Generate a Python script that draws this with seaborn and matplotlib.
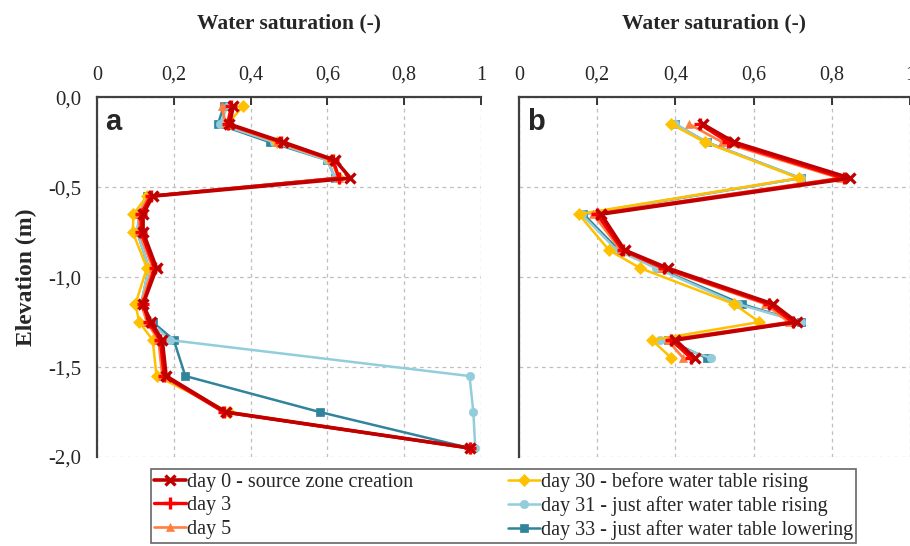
import numpy as np
import pandas as pd
import matplotlib
matplotlib.use("Agg")
import matplotlib.pyplot as plt
import seaborn as sns

# Perfiles de saturación de agua
ELEV_A = [-0.05, -0.15, -0.25, -0.35, -0.45, -0.55, -0.65, -0.75, -0.95,
          -1.15, -1.25, -1.35, -1.55, -1.75, -1.95]
ELEV_B = [-0.15, -0.25, -0.45, -0.65, -0.85, -0.95, -1.15, -1.25, -1.35, -1.45]

SERIES = ["day 0 - source zone creation", "day 3", "day 5",
          "day 30 - before water table rising",
          "day 31 - just after water table rising",
          "day 33 - just after water table lowering"]

DAY0_A = [0.355, 0.345, 0.485, 0.62, 0.66, 0.145, 0.12, 0.12, 0.155, 0.12, 0.14, 0.17, 0.18, 0.335, 0.97]
DAY3_A = [0.35, 0.34, 0.48, 0.615, 0.63, 0.14, 0.115, 0.115, 0.15, 0.12, 0.135, 0.165, 0.175, 0.33, 0.97]
DAY5_A = [0.325, 0.335, 0.47, 0.61, 0.63, 0.135, 0.11, 0.11, 0.145, 0.115, 0.13, 0.16, 0.17, 0.33, 0.97]
DAY30_A = [0.38, 0.34, 0.47, 0.61, 0.63, 0.13, 0.095, 0.093, 0.13, 0.10, 0.11, 0.145, 0.155, 0.345, 0.97]
DAY31_A = [0.34, 0.32, 0.46, 0.60, 0.62, 0.13, 0.11, 0.105, 0.135, 0.115, 0.14, 0.19, 0.97, 0.98, 0.985]
DAY33_A = [0.33, 0.315, 0.45, 0.60, 0.62, 0.13, 0.11, 0.105, 0.135, 0.115, 0.145, 0.20, 0.23, 0.58, 0.97]

DAY0_B = [0.47, 0.55, 0.847, 0.21, 0.27, 0.38, 0.65, 0.71, 0.40, 0.45]
DAY3_B = [0.463, 0.535, 0.83, 0.20, 0.265, 0.37, 0.64, 0.70, 0.39, 0.44]
DAY5_B = [0.435, 0.52, 0.82, 0.19, 0.26, 0.365, 0.63, 0.69, 0.38, 0.42]
DAY30_B = [0.39, 0.475, 0.715, 0.153, 0.23, 0.31, 0.55, 0.615, 0.34, 0.39]
DAY31_B = [0.40, 0.48, 0.72, 0.16, 0.25, 0.35, 0.56, 0.72, 0.36, 0.49]
DAY33_B = [0.40, 0.48, 0.72, 0.165, 0.255, 0.355, 0.57, 0.72, 0.38, 0.48]

X_TICKS = [0, 0.2, 0.4, 0.6, 0.8, 1]
X_LABELS = ["0", "0,2", "0,4", "0,6", "0,8", "1"]
Y_TICKS = [0, -0.5, -1.0, -1.5, -2.0]
Y_LABELS = ["0,0", "-0,5", "-1,0", "-1,5", "-2,0"]

# estilo de cada serie
COLORS = ["#C00000", "#FF0000", "#FF7F3F", "#FFC000", "#92CDDC", "#31849B"]
MARKERS = ["x", "+", "^", "D", "o", "s"]
MSIZE = [7, 9, 6, 6, 6, 6]
LWIDTH = [2.6, 2.4, 1.9, 1.8, 1.8, 1.8]

sns.set_theme(style="white")
plt.rcParams["font.family"] = ["Liberation Serif", "DejaVu Serif"]


def long_df(elev, cols):
    rows = []
    for name, vals in zip(SERIES, cols):
        for e, v in zip(elev, vals):
            rows.append(dict(serie=name, elev=e, sw=v))
    return pd.DataFrame(rows)


df_a = long_df(ELEV_A, [DAY0_A, DAY3_A, DAY5_A, DAY30_A, DAY31_A, DAY33_A])
df_b = long_df(ELEV_B, [DAY0_B, DAY3_B, DAY5_B, DAY30_B, DAY31_B, DAY33_B])

fig = plt.figure(figsize=(9.1, 5.46), dpi=100)
ax_a = fig.add_axes([0.1066, 0.163, 0.422, 0.659])
ax_b = fig.add_axes([0.5703, 0.163, 0.4297, 0.659])


def draw_panel(ax, df, letter, show_y):
    # rojo encima: se dibuja en orden inverso
    for i in reversed(range(len(SERIES))):
        sub = df[df["serie"] == SERIES[i]]
        filled = MARKERS[i] not in ("x", "+")
        sns.lineplot(data=sub, x="sw", y="elev", sort=False, estimator=None,
                     ax=ax, color=COLORS[i], marker=MARKERS[i],
                     markersize=MSIZE[i], linewidth=LWIDTH[i], label=SERIES[i],
                     markeredgewidth=2.4 if not filled else 0.5,
                     markeredgecolor=COLORS[i], zorder=10 - i)
    ax.set_xlim(0, 1)
    ax.set_ylim(-2.0, 0)
    ax.set_xticks(X_TICKS)
    ax.set_xticklabels(X_LABELS)
    ax.set_yticks(Y_TICKS)
    ax.set_yticklabels(Y_LABELS if show_y else [])
    ax.xaxis.tick_top()
    ax.xaxis.set_label_position("top")
    ax.set_xlabel("Water saturation (-)", fontsize=15.5, fontweight="bold", labelpad=27)
    if show_y:
        ax.set_ylabel("Elevation (m)", fontsize=17, fontweight="bold", labelpad=8)
    else:
        ax.set_ylabel("")
    ax.tick_params(axis="x", direction="in", length=6, width=1.3, labelsize=14.5, pad=9)
    ax.tick_params(axis="y", direction="out", length=6, width=1.3, labelsize=15, pad=5)
    ax.grid(True, linestyle=(0, (3, 3)), color="#BFBFBF", linewidth=0.9)
    for side in ("right", "bottom"):
        ax.spines[side].set_visible(False)
    for side in ("left", "top"):
        ax.spines[side].set_color("#404040")
        ax.spines[side].set_linewidth(1.6)
    ax.text(0.02, 0.93, letter, transform=ax.transAxes, fontsize=21,
            fontweight="bold", family="Liberation Sans", va="center", zorder=20)
    ax.get_legend().remove()


draw_panel(ax_a, df_a, "a", True)
draw_panel(ax_b, df_b, "b", False)

handles, labels = ax_a.get_legend_handles_labels()
order = [labels.index(s) for s in SERIES]
leg = fig.legend([handles[k] for k in order], [labels[k] for k in order],
                 loc="center", bbox_to_anchor=(0.553, 0.073), ncol=2,
                 fontsize=14.5, frameon=True, fancybox=False, handlelength=1.6,
                 handletextpad=0.05, columnspacing=4.7, labelspacing=0.22,
                 borderpad=0.15, borderaxespad=0)
leg.get_frame().set_edgecolor("#404040")
leg.get_frame().set_linewidth(1.2)

fig.savefig("out.png", dpi=100)
